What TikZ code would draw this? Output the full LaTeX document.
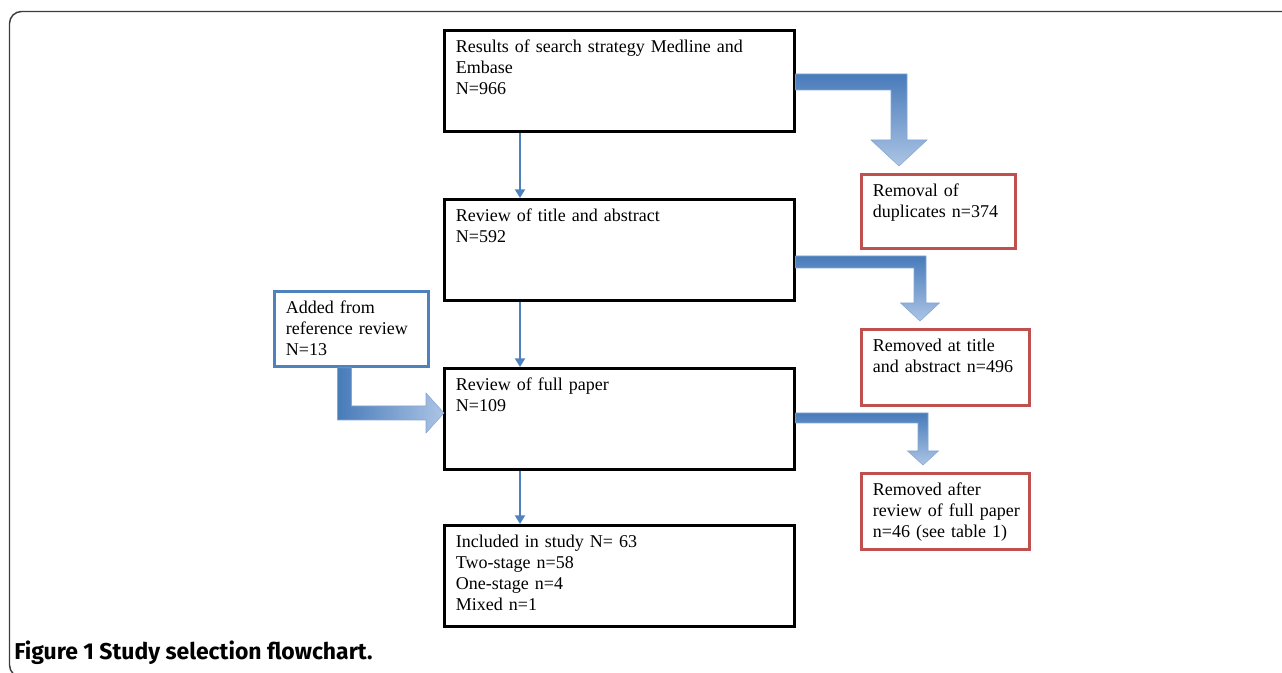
\documentclass[tikz,border=0pt]{standalone}
\usepackage{fontspec}
\setmainfont{Liberation Serif}
\newfontfamily\capfont{Fira Sans}
\usepackage{tikz}
\usetikzlibrary{calc}
\usetikzlibrary{arrows.meta}
\definecolor{flowblue}{RGB}{79,129,189}
\definecolor{flowred}{RGB}{192,80,77}
\definecolor{arrowdark}{RGB}{72,123,186}
\definecolor{arrowlight}{RGB}{172,196,229}
\definecolor{framegray}{RGB}{60,60,60}
% bent block arrow: bar from #1, then down to tip #2 (#3 half bar, #4 half head, #5 head length)
\newcommand{\bentdown}[5]{\path[draw=flowblue!70, line width=0.4pt, top color=arrowdark, bottom color=arrowlight] let \p1=#1, \p2=#2 in (\x1,\y1+#3) -- (\x2+#3,\y1+#3) -- (\x2+#3,\y2+#5) -- (\x2+#4,\y2+#5) -- (\x2,\y2) -- (\x2-#4,\y2+#5) -- (\x2-#3,\y2+#5) -- (\x2-#3,\y1-#3) -- (\x1,\y1-#3) -- cycle;}
% bent block arrow: shaft down from #1, then right to tip #2
\newcommand{\bentright}[5]{\path[draw=flowblue!70, line width=0.4pt, left color=arrowdark, right color=arrowlight] let \p1=#1, \p2=#2 in (\x1-#3,\y1) -- (\x1-#3,\y2-#3) -- (\x2-#5,\y2-#3) -- (\x2-#5,\y2-#4) -- (\x2,\y2) -- (\x2-#5,\y2+#4) -- (\x2-#5,\y2+#3) -- (\x1+#3,\y2+#3) -- (\x1+#3,\y1) -- cycle;}
\tikzset{
  box/.style={anchor=north west, align=left, inner xsep=8.6pt, inner ysep=6pt, line width=2.2pt, text height=10.5pt, font=\fontsize{13.5}{15.75}\selectfont},
  stage/.style={box, draw=black, text width=245pt, text depth=53pt},
  removed/.style={box, draw=flowred, text width=108.8pt, text depth=34.5pt},
  added/.style={box, draw=flowblue, text width=98.3pt, text depth=33.75pt},
  thinarrow/.style={draw=flowblue, line width=1.5pt, -{Triangle[width=7.5pt,length=6.5pt]}}
}
\begin{document}
\begin{tikzpicture}[x=0.75pt,y=-0.75pt]
\useasboundingbox (0,0) rectangle (1282,673);
% frame and caption
\draw[framegray, line width=1.1pt, rounded corners=9pt] (1300,11.5) -- (9.5,11.5) -- (9.5,677) -- (1300,677);
\node[anchor=base west, inner sep=0pt, font=\capfont\bfseries\fontsize{17.2}{20}\selectfont] (caption) at (14,659) {Figure 1 Study selection flowchart.};
% main column
\node[stage] (search) at (443,29) {Results of search strategy Medline and\\Embase\\N=966};
\node[stage] (review) at (443,198) {Review of title and abstract\\N=592};
\node[stage] (fullpaper) at (443,367) {Review of full paper\\N=109};
\node[stage] (included) at (443,524) {Included in study N= 63\\Two-stage n=58\\One-stage n=4\\Mixed n=1};
% side boxes
\node[removed, text width=98.3pt, text depth=33pt] (dup) at (860,173) {Removal of\\duplicates n=374};
\node[removed] (titleabs) at (860,328) {Removed at title\\and abstract n=496};
\node[removed] (fullrem) at (860,472) {Removed after\\\mbox{review of full paper}\\n=46 (see table 1)};
\node[added] (addref) at (273,290) {Added from\\reference review\\N=13};
% thin arrows down the column
\coordinate (spine) at (520,0);
\draw[thinarrow] (search.south -| spine) -- (review.north -| spine);
\draw[thinarrow] (review.south -| spine) -- (fullpaper.north -| spine);
\draw[thinarrow] (fullpaper.south -| spine) -- (included.north -| spine);
% block arrows
\coordinate (dupstart) at ($(search.north east)+(0,53)$);
\coordinate (duptip) at ($(dup.north west)+(39,-7)$);
\coordinate (titlestart) at ($(review.north east)+(0,64)$);
\coordinate (titletip) at ($(titleabs.north west)+(60,-7)$);
\coordinate (fullstart) at ($(fullpaper.north east)+(0,51)$);
\coordinate (fulltip) at ($(fullrem.north west)+(63,-7)$);
\coordinate (addstart) at ($(addref.south west)+(71.5,0)$);
\coordinate (addtip) at ($(fullpaper.north west)+(1,46)$);
\bentdown{(dupstart)}{(duptip)}{6pt}{21pt}{19.5pt}
\bentdown{(titlestart)}{(titletip)}{4.5pt}{14.6pt}{13.5pt}
\bentdown{(fullstart)}{(fulltip)}{3.75pt}{11.6pt}{10.5pt}
\bentright{(addstart)}{(addtip)}{5.25pt}{15pt}{13.5pt}
\end{tikzpicture}
\end{document}
